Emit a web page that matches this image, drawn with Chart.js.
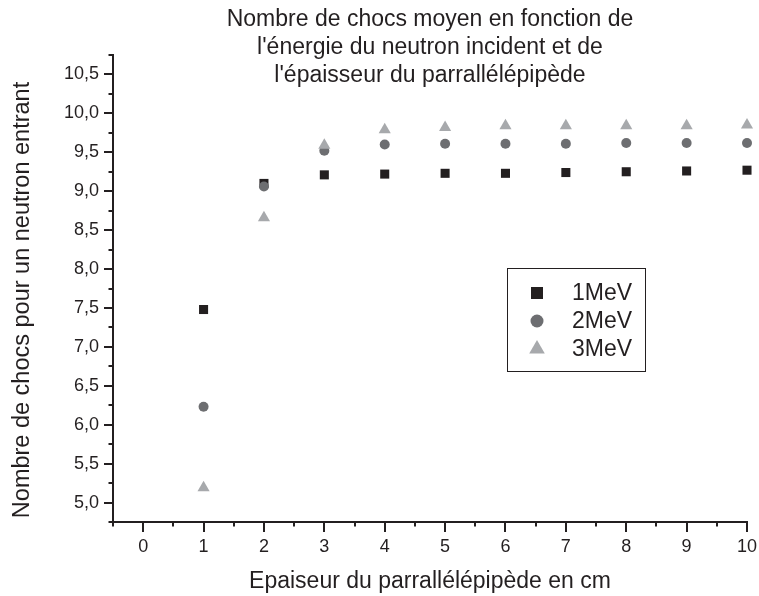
<!DOCTYPE html>
<html>
<head>
<meta charset="utf-8">
<title>Nombre de chocs moyen</title>
<script src="https://cdn.jsdelivr.net/npm/chart.js@4.4.1/dist/chart.umd.min.js"></script>
<style>
  html, body { margin: 0; padding: 0; background: #fff; }
  #wrap { width: 759px; height: 596px; }
</style>
</head>
<body>
<div id="wrap"><canvas id="chart" width="759" height="596"></canvas></div>
<script>
/* Nombre de chocs moyen vs épaisseur */

const titleLines = [
  'Nombre de chocs moyen en fonction de',
  "l'énergie du neutron incident et de",
  "l'épaisseur du parrallélépipède"
];
const yTitle = 'Nombre de chocs pour un neutron entrant';
const xTitle = 'Epaiseur du parrallélépipède en cm';

const seriesNames = ['1MeV', '2MeV', '3MeV'];
const thickness = [1, 2, 3, 4, 5, 6, 7, 8, 9, 10];
const chocs1MeV = [7.48, 9.10, 9.21, 9.22, 9.23, 9.23, 9.24, 9.25, 9.26, 9.27];
const chocs2MeV = [6.23, 9.06, 9.52, 9.60, 9.61, 9.61, 9.61, 9.62, 9.62, 9.62];
const chocs3MeV = [5.19, 8.66, 9.59, 9.79, 9.82, 9.84, 9.84, 9.84, 9.84, 9.85];

const xTickLabels = ['0', '1', '2', '3', '4', '5', '6', '7', '8', '9', '10'];
const yTickLabels = ['5,0', '5,5', '6,0', '6,5', '7,0', '7,5', '8,0', '8,5', '9,0', '9,5', '10,0', '10,5'];

const INK = '#231f20';
const FONT = '"Liberation Sans", Arial, Helvetica, sans-serif';
Chart.defaults.font.family = FONT;
Chart.defaults.color = INK;

function toPoints(ys) {
  return thickness.map((x, i) => ({ x: x, y: ys[i] }));
}

function isStep(v, step) {
  return Math.abs(v / step - Math.round(v / step)) < 1e-6;
}

// minor + major tick marks, drawn outside the axes
const tickMarks = {
  id: 'tickMarks',
  afterDraw(chart) {
    const ctx = chart.ctx;
    const xs = chart.scales.x, ys = chart.scales.y;
    const area = chart.chartArea;
    ctx.save();
    ctx.strokeStyle = INK;
    ctx.lineWidth = 2;
    xs.ticks.forEach(t => {
      const px = Math.round(xs.getPixelForValue(t.value));
      const len = isStep(t.value, 1) ? 10 : 4.5;
      ctx.beginPath();
      ctx.moveTo(px, area.bottom);
      ctx.lineTo(px, area.bottom + len);
      ctx.stroke();
    });
    ys.ticks.forEach(t => {
      const py = Math.round(ys.getPixelForValue(t.value));
      const len = isStep(t.value, 0.5) ? 9 : 4.5;
      ctx.beginPath();
      ctx.moveTo(area.left - len, py);
      ctx.lineTo(area.left, py);
      ctx.stroke();
    });
    ctx.restore();
  }
};

// three-line title over the top of the plot, plus the rotated y title
const titleText = {
  id: 'titleText',
  afterDraw(chart) {
    const ctx = chart.ctx;
    const area = chart.chartArea;
    const cx = (area.left + area.right) / 2;
    ctx.save();
    ctx.fillStyle = INK;
    ctx.font = '23px ' + FONT;
    ctx.textAlign = 'center';
    ctx.textBaseline = 'middle';
    titleLines.forEach((line, i) => {
      ctx.fillText(line, cx, 20 + i * 28);
    });
    ctx.translate(23, 300);
    ctx.rotate(-Math.PI / 2);
    ctx.font = '23.5px ' + FONT;
    ctx.fillText(yTitle, 0, 0);
    ctx.restore();
  }
};

// boxed legend inside the plot
const boxLegend = {
  id: 'boxLegend',
  afterDraw(chart) {
    const ctx = chart.ctx;
    const sizes = { rect: 8.5, circle: 6.5, triangle: 9 };
    ctx.save();
    ctx.strokeStyle = INK;
    ctx.lineWidth = 1;
    ctx.strokeRect(507.5, 268.5, 138, 103);
    ctx.font = '23px ' + FONT;
    ctx.textAlign = 'left';
    ctx.textBaseline = 'middle';
    chart.data.datasets.forEach((ds, i) => {
      const y = 293 + i * 28;
      ctx.fillStyle = ds.backgroundColor;
      Chart.helpers.drawPoint(ctx, {
        pointStyle: ds.pointStyle,
        radius: sizes[ds.pointStyle],
        rotation: 0,
        borderWidth: 0
      }, 537, y);
      ctx.fillStyle = INK;
      ctx.fillText(ds.label, 572, y + 1);
    });
    ctx.restore();
  }
};

new Chart(document.getElementById('chart'), {
  type: 'scatter',
  data: {
    datasets: [
      {
        label: seriesNames[0],
        data: toPoints(chocs1MeV),
        pointStyle: 'rect',
        pointRadius: 6.4,
        backgroundColor: '#231f20',
        borderWidth: 0,
        order: 3,
        clip: false
      },
      {
        label: seriesNames[1],
        data: toPoints(chocs2MeV),
        pointStyle: 'circle',
        pointRadius: 5,
        backgroundColor: '#6d6e71',
        borderWidth: 0,
        order: 2,
        clip: false
      },
      {
        label: seriesNames[2],
        data: toPoints(chocs3MeV),
        pointStyle: 'triangle',
        pointRadius: 7,
        backgroundColor: '#a7a9ac',
        borderWidth: 0,
        order: 1,
        clip: false
      }
    ]
  },
  options: {
    responsive: false,
    animation: false,
    events: [],
    layout: { padding: { top: 55, right: 12, left: 0, bottom: 0 } },
    plugins: {
      legend: { display: false },
      title: { display: false },
      tooltip: { enabled: false }
    },
    scales: {
      x: {
        type: 'linear',
        min: -0.5,
        max: 10,
        afterBuildTicks: s => {
          const t = [];
          for (let v = -0.5; v <= 10.0001; v += 0.5) t.push({ value: Math.round(v * 2) / 2 });
          s.ticks = t;
        },
        afterFit: s => {
          s.height = 74;
          s.paddingLeft = 0;
          s.paddingRight = 10;
        },
        grid: { display: false, drawTicks: false },
        border: { display: true, color: INK, width: 2 },
        ticks: {
          autoSkip: false,
          maxRotation: 0,
          padding: 14,
          font: { size: 18 },
          color: INK,
          callback: v => isStep(v, 1) && v >= 0 ? xTickLabels[Math.round(v)] : ''
        },
        title: {
          display: true,
          text: xTitle,
          font: { size: 23 },
          color: INK,
          padding: { top: 0, bottom: 1 }
        }
      },
      y: {
        type: 'linear',
        min: 4.75,
        max: 10.75,
        afterBuildTicks: s => {
          const t = [];
          for (let v = 4.75; v <= 10.7501; v += 0.25) t.push({ value: Math.round(v * 4) / 4 });
          s.ticks = t;
        },
        afterFit: s => { s.width = 113; },
        grid: { display: false, drawTicks: false },
        border: { display: true, color: INK, width: 2 },
        ticks: {
          autoSkip: false,
          padding: 14,
          font: { size: 18 },
          color: INK,
          callback: v => {
            if (!isStep(v, 0.5) || v < 5) return '';
            return yTickLabels[Math.round((v - 5) / 0.5)];
          }
        },
        title: { display: false }
      }
    }
  },
  plugins: [tickMarks, titleText, boxLegend]
});
</script>
</body>
</html>
